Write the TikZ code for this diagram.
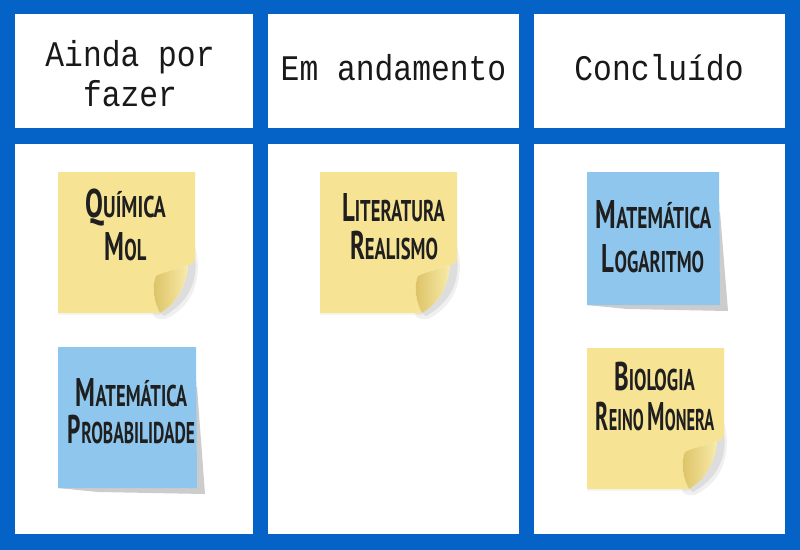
\documentclass[tikz,border=0pt]{standalone}
\usepackage{fontspec}
\newfontfamily\headfont[FakeStretch=0.87]{Liberation Mono}
\newfontfamily\notefont[FakeStretch=0.62]{PT Sans}
\definecolor{bgblue}{HTML}{0563C8}
\definecolor{noteyellow}{HTML}{F6E494}
\definecolor{flapdark}{HTML}{DCC265}
\definecolor{flaplight}{HTML}{F8EAA8}
\definecolor{noteblue}{HTML}{8FC6EE}
\newcommand\nsc[2]{{\fontsize{30}{30}\selectfont #1}{\fontsize{22.5}{22.5}\selectfont #2}}
\newcommand\yellownote[1]{%
\begin{scope}[shift={#1}]
 \fill[black,opacity=0.06] (136,70) .. controls (145,100) and (139,132) .. (108,147) .. controls (100,148) and (95,146) .. (95,141) -- (102,141) .. controls (118,132) and (128,115) .. (130,93) -- cycle;
 \fill[black,opacity=0.08] (136,80) .. controls (141,102) and (135,128) .. (106,144) -- (102,141) .. controls (118,132) and (128,115) .. (130,93) -- cycle;
 \fill[black,opacity=0.04] (0,141) rectangle (102,143);
 \fill[noteyellow] (0,0) -- (137,0) -- (137,83) .. controls (137,91) and (134,93) .. (130,93) .. controls (122,97) and (107,99) .. (98,104) .. controls (94,113) and (95,128) .. (102,141) -- (0,141) -- cycle;
 \shade[left color=flapdark,right color=flaplight] (98,104) .. controls (107,99) and (122,97) .. (130,93) .. controls (128,115) and (118,132) .. (102,141) .. controls (95,128) and (94,113) .. (98,104) -- cycle;
\end{scope}}
\newcommand\bluenote[3]{%
\begin{scope}[shift={#1}]
 \fill[black!20] (0,#3) -- (#2,40) -- (#2+8,#3+6) -- (40,#3+4) -- cycle;
 \fill[noteblue] (0,0) -- (#2-1,0) -- (#2,#3) -- (0,#3) -- cycle;
\end{scope}}
\tikzset{
 headtext/.style={anchor=base,inner sep=0pt,text=black!90,font=\headfont\fontsize{27}{30}\selectfont},
 notetext/.style={anchor=base,inner sep=0pt,text=black!88,font=\notefont\bfseries},
}
\begin{document}
\begin{tikzpicture}[x=0.75pt,y=-0.75pt]
\useasboundingbox (0,0) rectangle (800,550);
\fill[bgblue] (0,0) rectangle (800,550);
% panels
\fill[white] (15,14) rectangle (253,128);
\fill[white] (268,14) rectangle (519,128);
\fill[white] (534,14) rectangle (785,128);
\fill[white] (15,144) rectangle (253,534);
\fill[white] (268,144) rectangle (519,534);
\fill[white] (534,144) rectangle (785,534);
% headers
\node[headtext] (h1a) at (130,66.7) {Ainda por};
\node[headtext] (h1b) at (130,106.7) {fazer};
\node[headtext] (h2) at (393.5,80) {Em andamento};
\node[headtext] (h3) at (659,80) {Concluído};
% notes
\yellownote{(58,172)}
\yellownote{(320,172)}
\yellownote{(587,348)}
\bluenote{(58,347)}{139}{141}
\bluenote{(587,172)}{133}{133}
% note texts
\node[notetext] (q1) at (125.5,217) {\scalebox{1.08}[1]{\nsc{Q}{UÍMICA}}};
\node[notetext] (q2) at (125.5,260) {\nsc{M}{OL}};
\node[notetext] (p1) at (131.5,406) {\nsc{M}{ATEMÁTICA}};
\node[notetext] (p2) at (131.5,443) {\scalebox{0.94}[1]{\nsc{P}{ROBABILIDADE}}};
\node[notetext] (l1) at (393.5,221.5) {\nsc{L}{ITERATURA}};
\node[notetext] (l2) at (394,259) {\nsc{R}{EALISMO}};
\node[notetext] (m1) at (653.5,228) {\scalebox{1.04}[1]{\nsc{M}{ATEMÁTICA}}};
\node[notetext] (m2) at (653,272) {\nsc{L}{OGARITMO}};
\node[notetext] (b1) at (654.5,390) {\nsc{B}{IOLOGIA}};
\node[notetext] (b2) at (655,430.5) {\scalebox{0.88}[1]{\nsc{R}{EINO}\hspace{3pt}\nsc{M}{ONERA}}};
\end{tikzpicture}
\end{document}
